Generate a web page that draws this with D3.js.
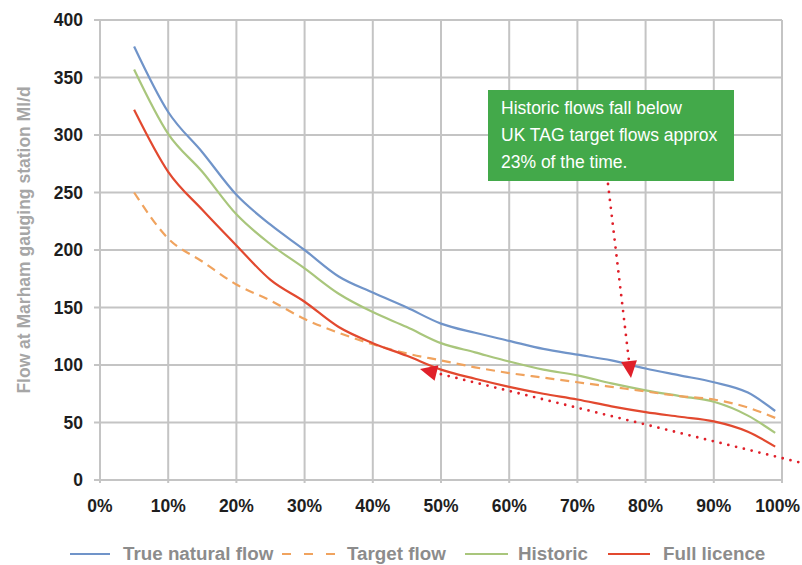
<!DOCTYPE html>
<html>
<head>
<meta charset="utf-8">
<script src="https://cdn.jsdelivr.net/npm/d3@7"></script>
<style>
  body { margin: 0; background: #fff; }
  svg { display: block; }
</style>
</head>
<body>
<div id="chart"></div>
<script>
// percent of time flow is exceeded
var pct = [5, 10, 15, 20, 25, 30, 35, 40, 45, 50, 55, 60, 65, 70, 75, 80, 85, 90, 95, 99];

var trueNatural = [377, 320, 285, 248, 222, 200, 177, 163, 150, 136, 128, 121, 114, 109, 104, 97, 91, 85, 76, 60];
var targetFlow  = [250, 210, 190, 170, 156, 140, 128, 118, 110, 104, 98, 93, 89, 85, 81, 77, 73, 70, 63, 54];
var historic    = [357, 301, 268, 231, 205, 184, 162, 146, 133, 119, 111, 103, 96, 91, 84, 78, 73, 68, 56, 41];
var fullLicence = [322, 268, 235, 204, 174, 155, 133, 119, 108, 96, 88, 81, 75, 70, 64, 59, 55, 51, 42, 29];

var xTicks = [0, 10, 20, 30, 40, 50, 60, 70, 80, 90, 100];
var yTicks = [0, 50, 100, 150, 200, 250, 300, 350, 400];

var seriesNames = ["True natural flow", "Target flow", "Historic", "Full licence"];
var seriesColors = ["#7094c9", "#f0a35e", "#a9c67c", "#e2492f"];
var seriesData = [trueNatural, targetFlow, historic, fullLicence];

var note = ["Historic flows fall below", "UK TAG target flows approx", "23% of the time."];

var W = 802, H = 565;
var margin = {top: 20, right: 20, bottom: 85, left: 100},
    width = 782 - margin.left,
    height = 480 - margin.top;

var font = "Liberation Sans, Arial, sans-serif";

var svg = d3.select("#chart").append("svg")
    .attr("width", W)
    .attr("height", H);

var g = svg.append("g")
    .attr("transform", "translate(" + margin.left + "," + margin.top + ")");

var x = d3.scaleLinear().domain([0, 100]).range([0, width]);
var y = d3.scaleLinear().domain([0, 400]).range([height, 0]);

// grid
g.selectAll(".hgrid").data(yTicks).enter().append("line")
    .attr("x1", -6).attr("x2", width)
    .attr("y1", function(d) { return y(d); })
    .attr("y2", function(d) { return y(d); })
    .attr("stroke", "#c4c4c4").attr("stroke-width", 2);

g.selectAll(".vgrid").data(xTicks).enter().append("line")
    .attr("y1", 0).attr("y2", height + 3)
    .attr("x1", function(d) { return x(d); })
    .attr("x2", function(d) { return x(d); })
    .attr("stroke", "#c4c4c4").attr("stroke-width", 2);

// tick labels
g.selectAll(".ylab").data(yTicks).enter().append("text")
    .attr("x", -17)
    .attr("y", function(d) { return y(d) + 6; })
    .attr("text-anchor", "end")
    .style("font-family", font)
    .style("font-weight", "bold")
    .style("font-size", "17.5px")
    .attr("fill", "#1e1e1e")
    .text(function(d) { return d; });

// last label is pushed in so it stays inside the page
g.selectAll(".xlab").data(xTicks).enter().append("text")
    .attr("x", function(d) { return d == 100 ? W - margin.left - 2 : x(d); })
    .attr("y", height + 32)
    .attr("text-anchor", function(d) { return d == 100 ? "end" : "middle"; })
    .style("font-family", font)
    .style("font-weight", "bold")
    .style("font-size", "17.5px")
    .attr("fill", "#1e1e1e")
    .text(function(d) { return d + "%"; });

svg.append("text")
    .attr("transform", "translate(30,240) rotate(-90)")
    .attr("text-anchor", "middle")
    .style("font-family", font)
    .style("font-weight", "bold")
    .style("font-size", "17.5px")
    .attr("fill", "#a6a6a6")
    .text("Flow at Marham gauging station Ml/d");

// lines
var line = d3.line()
    .x(function(d, i) { return x(pct[i]); })
    .y(function(d) { return y(d); })
    .curve(d3.curveMonotoneX);

var drawOrder = [0, 2, 1, 3];
drawOrder.forEach(function(k) {
  g.append("path")
    .datum(seriesData[k])
    .attr("d", line)
    .attr("fill", "none")
    .attr("stroke", seriesColors[k])
    .attr("stroke-width", 2.2)
    .attr("stroke-dasharray", k == 1 ? "9,6" : null);
});

// annotation box
svg.append("rect")
    .attr("x", 488).attr("y", 90)
    .attr("width", 246).attr("height", 91)
    .attr("fill", "#43a94a");

svg.selectAll(".note").data(note).enter().append("text")
    .attr("x", 501)
    .attr("y", function(d, i) { return 114 + i * 27; })
    .style("font-family", font)
    .style("font-size", "17.5px")
    .attr("fill", "#fff")
    .text(function(d) { return d; });

// dotted arrows
function arrow(x1, y1, x2, y2) {
  var ang = Math.atan2(y2 - y1, x2 - x1);
  var len = 17, half = 8;
  var bx = x2 - len * Math.cos(ang), by = y2 - len * Math.sin(ang);
  svg.append("line")
    .attr("x1", x1).attr("y1", y1).attr("x2", bx).attr("y2", by)
    .attr("stroke", "#e0202a")
    .attr("stroke-width", 2.8)
    .attr("stroke-linecap", "round")
    .attr("stroke-dasharray", "0,8");
  var px = -Math.sin(ang) * half, py = Math.cos(ang) * half;
  svg.append("path")
    .attr("d", "M" + x2 + "," + y2 + "L" + (bx + px) + "," + (by + py) + "L" + (bx - px) + "," + (by - py) + "Z")
    .attr("fill", "#e0202a");
}
arrow(608, 184, 631, 378);
arrow(806, 464, 420, 369);

// legend
var legendX = [70, 282, 465, 608];
var legendLen = [40, 53, 43, 42];
var legendGap = [53, 65, 53, 55];
var legend = svg.selectAll(".legend").data(seriesNames).enter().append("g")
    .attr("transform", function(d, i) { return "translate(" + legendX[i] + ",554)"; });

legend.append("line")
    .attr("x1", 0).attr("x2", function(d, i) { return legendLen[i]; })
    .attr("y1", 0).attr("y2", 0)
    .attr("stroke", function(d, i) { return seriesColors[i]; })
    .attr("stroke-width", 2)
    .attr("stroke-dasharray", function(d, i) { return i == 1 ? "9,13" : null; });

legend.append("text")
    .attr("x", function(d, i) { return legendGap[i]; })
    .attr("y", 6)
    .style("font-family", font)
    .style("font-weight", "bold")
    .style("font-size", "18.8px")
    .attr("fill", "#8c8c8c")
    .text(function(d) { return d; });
</script>
</body>
</html>
